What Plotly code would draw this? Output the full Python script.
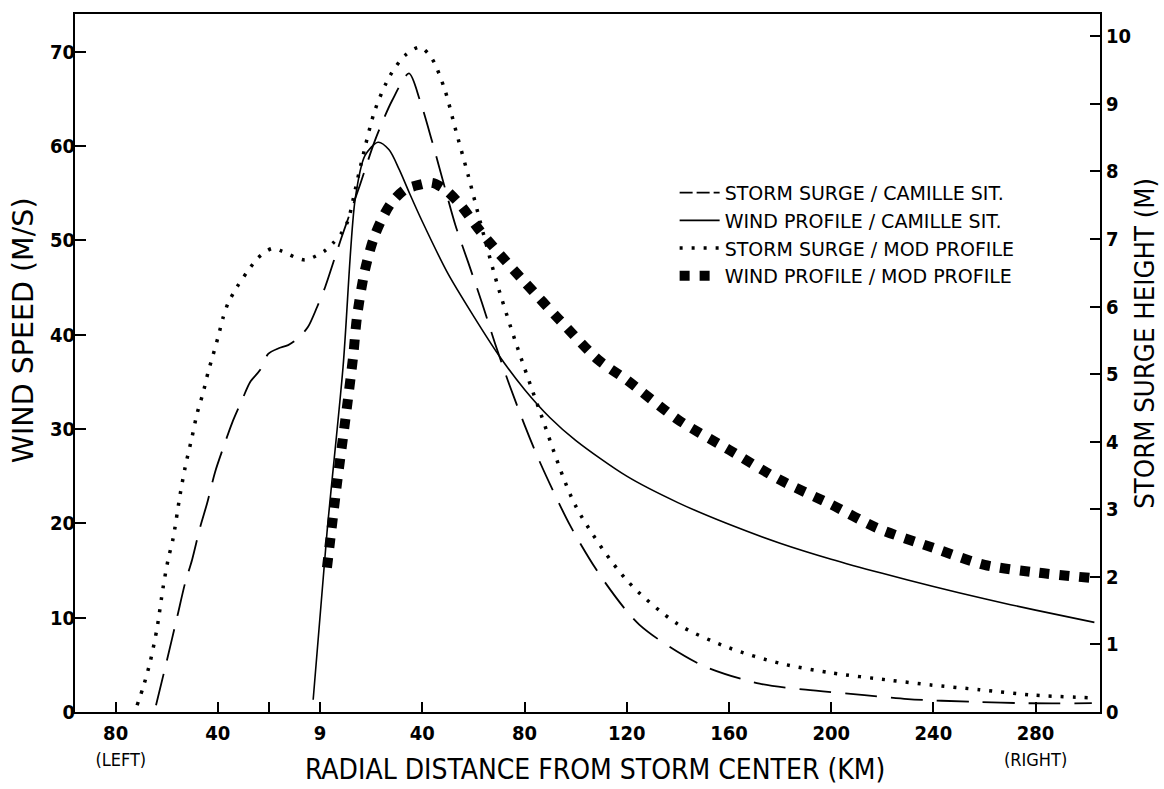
import plotly.graph_objects as go

# ---- data (x: km from storm centre, negative = left side) ----
surge_camille_x = [-64.2, -59.9, -55.9, -52.8, -50.1, -46.9, -44.2, -41.1, -37.9, -34.4, -30.5, -27.4,
                   -23.5, -20.3, -16.4, -12.5, -8.6, -4.7, -1.2, 2.0, 6.7, 9.0, 15.6, 21.5, 28.2, 34.8,
                   39.1, 43.8, 48.9, 53.0, 58.0, 63.4, 68.5, 74.0, 80.0, 86.0, 98.0, 110.0, 125.0,
                   149.0, 172.0, 190.0, 213.0, 230.0, 256.0, 277.0, 302.0]
surge_camille_m = [0.10, 0.77, 1.41, 1.91, 2.25, 2.74, 3.09, 3.55, 3.91, 4.28, 4.62, 4.88,
                   5.06, 5.30, 5.38, 5.43, 5.53, 5.70, 5.99, 6.29, 6.83, 7.09, 7.80, 8.46, 9.05, 9.45,
                   9.05, 8.45, 7.75, 7.20, 6.65, 6.05, 5.45, 4.85, 4.25, 3.70, 2.75, 2.00, 1.29,
                   0.70, 0.42, 0.33, 0.25, 0.19, 0.15, 0.13, 0.13]

wind_camille_x = [-2.7, 2.7, 9.0, 13.7, 17.6, 22.7, 27.0, 31.0, 35.0, 40.0, 50.0, 60.0, 70.0, 80.0,
                  90.0, 100.0, 120.0, 140.0, 160.0, 180.0, 200.0, 220.0, 240.0, 260.0, 280.0, 303.0]
wind_camille_ms = [1.3, 19.0, 36.6, 54.3, 59.0, 60.4, 59.6, 57.5, 55.0, 52.0, 46.5, 42.0, 37.8, 34.2,
                   31.2, 28.8, 25.0, 22.2, 19.9, 17.9, 16.2, 14.7, 13.3, 12.0, 10.8, 9.5]

surge_mod_x = [-71.6, -69.2, -66.5, -63.8, -61.4, -59.5, -57.5, -54.8, -52.8, -50.1, -48.1, -45.8,
               -43.8, -41.9, -39.9, -38.0, -36.0, -32.5, -28.6, -24.3, -18.8, -14.9, -9.8, -5.9,
               -2.7, 2.0, 5.1, 8.6, 11.0, 13.7, 16.4, 21.5, 27.4, 33.3, 39.1, 43.8, 48.9, 52.8,
               57.9, 63.4, 69.2, 76.3, 86.0, 100.0, 120.0, 140.0, 160.0, 180.0, 200.0, 223.0,
               239.0, 258.0, 279.0, 302.0]
surge_mod_m = [0.10, 0.37, 0.74, 1.24, 1.85, 2.25, 2.57, 3.21, 3.62, 4.07, 4.42, 4.72,
               5.03, 5.28, 5.55, 5.83, 6.05, 6.29, 6.51, 6.72, 6.86, 6.82, 6.73, 6.69,
               6.73, 6.83, 6.94, 7.10, 7.28, 7.72, 8.17, 8.91, 9.42, 9.72, 9.84, 9.67, 9.20, 8.65,
               7.95, 7.15, 6.35, 5.50, 4.45, 3.05, 1.95, 1.30, 0.95, 0.72, 0.58, 0.47,
               0.40, 0.33, 0.25, 0.21]

wind_mod_x = [2.7, 6.7, 9.8, 12.9, 14.5, 17.6, 21.5, 27.4, 33.3, 39.1, 43.8, 48.9, 54.8, 62.6,
              70.4, 80.0, 93.6, 109.0, 120.0, 140.0, 160.0, 180.0, 200.0, 218.0, 240.0, 260.0,
              280.0, 302.0]
wind_mod_ms = [15.3, 24.4, 30.8, 37.6, 42.0, 46.9, 50.6, 53.8, 55.4, 55.9, 56.1, 55.4, 53.8, 51.0,
               48.5, 45.6, 41.6, 37.3, 35.2, 31.0, 27.8, 24.6, 22.0, 19.5, 17.4, 15.6,
               14.8, 14.2]

x_tick_vals = [-80, -40, -20, 0, 40, 80, 120, 160, 200, 240, 280]
x_tick_text = ["80<br><span style='font-size:18px;font-weight:normal'>\u00a0\u00a0(LEFT)</span>", "40", "", "9",
               "40", "80", "120", "160", "200", "240",
               "280<br><span style='font-size:18px;font-weight:normal'>(RIGHT)</span>"]
wind_tick_vals = [0, 10, 20, 30, 40, 50, 60, 70]
surge_tick_vals = [0, 1, 2, 3, 4, 5, 6, 7, 8, 9, 10]

names = ["STORM SURGE / CAMILLE SIT.", "WIND PROFILE / CAMILLE SIT.",
         "STORM SURGE / MOD PROFILE", "WIND PROFILE / MOD PROFILE"]
x_title = "RADIAL DISTANCE FROM STORM CENTER (KM)"
y_title = "WIND SPEED (M/S)"
y2_title = "STORM SURGE HEIGHT (M)"

TICKFONT = dict(family="DejaVu Sans Condensed", size=20, color="black", weight="bold")
XTITLEFONT = dict(family="DejaVu Sans Condensed", size=28, color="black")
YTITLEFONT = dict(family="DejaVu Sans", size=28.5, color="black")
Y2TITLEFONT = dict(family="DejaVu Sans Condensed", size=27.3, color="black")
LEGFONT = dict(family="DejaVu Sans", size=19, color="black")

WIND_RANGE = [0, 74.0]

fig = go.Figure()
# dashed surge (plot line; legend shown through a proxy with a shorter dash)
fig.add_trace(go.Scatter(x=surge_camille_x, y=surge_camille_m, yaxis="y2", mode="lines",
                         name=names[0], showlegend=False, legendrank=1,
                         line=dict(color="black", width=1.8, dash="32px,14px",
                                   shape="spline", smoothing=0.8)))
fig.add_trace(go.Scatter(x=[None], y=[None], yaxis="y2", mode="lines", name=names[0], legendrank=1,
                         line=dict(color="black", width=1.8, dash="13px,4px")))
fig.add_trace(go.Scatter(x=wind_camille_x, y=wind_camille_ms, mode="lines",
                         name=names[1], legendrank=2,
                         line=dict(color="black", width=1.6, shape="spline", smoothing=0.8)))
fig.add_trace(go.Scatter(x=surge_mod_x, y=surge_mod_m, yaxis="y2", mode="lines",
                         name=names[2], legendrank=3,
                         line=dict(color="black", width=3.5, dash="3px,9px",
                                   shape="spline", smoothing=0.8)))
fig.add_trace(go.Scatter(x=wind_mod_x, y=wind_mod_ms, mode="lines",
                         name=names[3], legendrank=4,
                         line=dict(color="black", width=10, dash="10px,10px",
                                   shape="spline", smoothing=0.8)))
# empty trace that makes the label-only wind axis render
fig.add_trace(go.Scatter(x=[None], y=[None], yaxis="y3", mode="lines", showlegend=False,
                         hoverinfo="skip"))

fig.update_layout(
    width=1164, height=789,
    margin=dict(l=75, r=64, t=14, b=77, autoexpand=False),
    paper_bgcolor="white", plot_bgcolor="white",
    font=dict(family="DejaVu Sans Condensed", color="black"),
    showlegend=True,
    legend=dict(x=0.585, y=0.771, xanchor="left", yanchor="top", bgcolor="rgba(0,0,0,0)",
                font=LEGFONT, tracegroupgap=0, itemwidth=40),
    xaxis=dict(range=[-95.9, 305.2], tickmode="array", tickvals=x_tick_vals, ticktext=x_tick_text,
               ticks="inside", ticklen=10, tickwidth=1.5, tickcolor="black",
               showline=True, linewidth=2, linecolor="black", mirror=True,
               showgrid=False, zeroline=False, tickfont=TICKFONT, automargin=False,
               ticklabelstandoff=2),
    yaxis=dict(range=WIND_RANGE, tickmode="array", tickvals=wind_tick_vals,
               ticks="inside", ticklen=11, tickwidth=1.5, tickcolor="black",
               showline=True, linewidth=2, linecolor="black", showticklabels=False,
               showgrid=False, zeroline=False, automargin=False),
    # label-only copy of the wind axis, so the numbers sit close to the frame
    yaxis3=dict(range=WIND_RANGE, tickmode="array", tickvals=wind_tick_vals, overlaying="y",
                anchor="free", position=0.0, side="left", ticks="", showline=False,
                showgrid=False, zeroline=False, tickfont=TICKFONT, automargin=False),
    yaxis2=dict(range=[0, 10.33], tickmode="array", tickvals=surge_tick_vals, overlaying="y",
                side="right", ticks="inside", ticklen=10, tickwidth=1.5, tickcolor="black",
                showline=True, linewidth=2, linecolor="black",
                showgrid=False, zeroline=False, tickfont=TICKFONT, automargin=False),
    annotations=[
        dict(text=x_title, xref="paper", yref="paper", x=0.507, y=-0.083, xanchor="center",
             yanchor="middle", showarrow=False, font=XTITLEFONT),
        dict(text=y_title, xref="paper", yref="paper", x=-0.0507, y=0.547, xanchor="center",
             yanchor="middle", showarrow=False, textangle=-90, font=YTITLEFONT),
        dict(text=y2_title, xref="paper", yref="paper", x=1.0439, y=0.529, xanchor="center",
             yanchor="middle", showarrow=False, textangle=-90, font=Y2TITLEFONT),
    ],
)

fig.write_html("out.html")
